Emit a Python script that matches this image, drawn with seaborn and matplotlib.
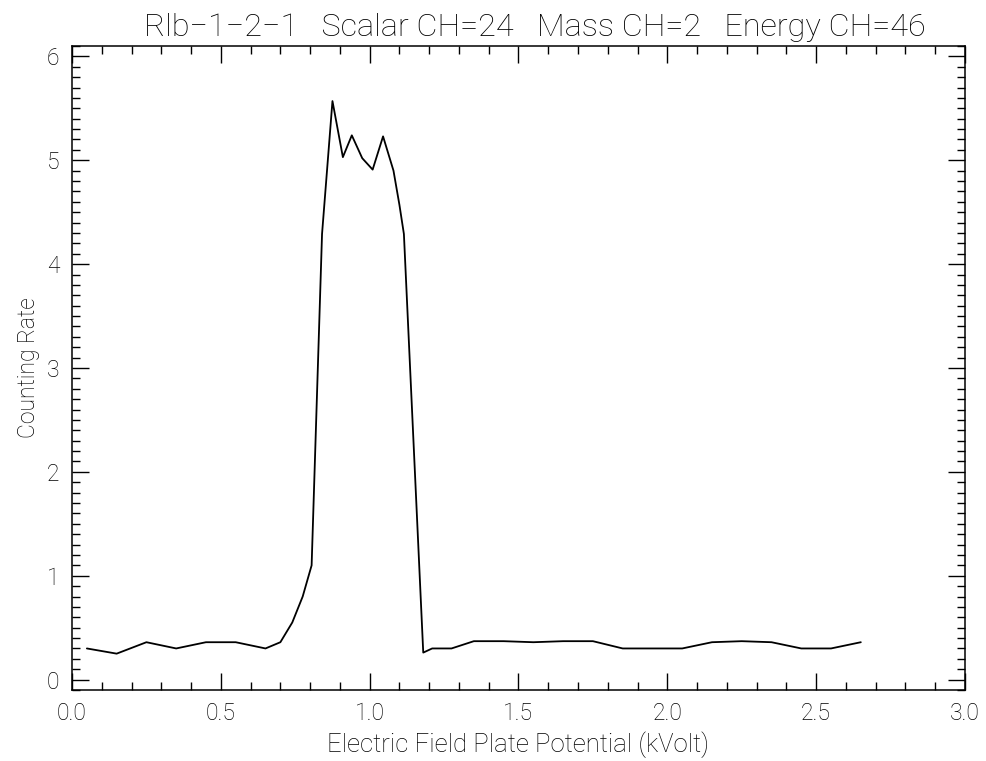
import matplotlib
matplotlib.use("Agg")
import matplotlib.pyplot as plt
from matplotlib.ticker import MultipleLocator
import seaborn as sns
import pandas as pd

# Data
potential_kv = [0.05, 0.15, 0.25, 0.35, 0.45, 0.55, 0.65, 0.70, 0.74, 0.775,
                0.805, 0.84, 0.875, 0.91, 0.94, 0.975, 1.01, 1.045, 1.08, 1.10,
                1.115, 1.18, 1.21, 1.275, 1.35, 1.45, 1.55, 1.65, 1.75, 1.85,
                1.95, 2.05, 2.15, 2.25, 2.35, 2.45, 2.55, 2.65]
counting_rate = [0.30, 0.25, 0.36, 0.30, 0.36, 0.36, 0.30, 0.36, 0.55, 0.80,
                 1.10, 4.29, 5.57, 5.03, 5.24, 5.02, 4.91, 5.23, 4.90, 4.57,
                 4.29, 0.26, 0.30, 0.30, 0.37, 0.37, 0.36, 0.37, 0.37, 0.30,
                 0.30, 0.30, 0.36, 0.37, 0.36, 0.30, 0.30, 0.36]
x_ticks = [0.0, 0.5, 1.0, 1.5, 2.0, 2.5, 3.0]
x_tick_labels = ["0.0", "0.5", "1.0", "1.5", "2.0", "2.5", "3.0"]
y_ticks = [0, 1, 2, 3, 4, 5, 6]
y_tick_labels = ["0", "1", "2", "3", "4", "5", "6"]
title_text = "Rlb\u22121\u22122\u22121   Scalar CH=24   Mass CH=2   Energy CH=46"
x_label = "Electric Field Plate Potential (kVolt)"
y_label = "Counting Rate"

df = pd.DataFrame({"x": potential_kv, "y": counting_rate})

sns.set_theme(style="white")
plt.rcParams["font.family"] = ["Roboto", "DejaVu Sans"]
plt.rcParams["font.weight"] = "light"

fig = plt.figure(figsize=(9.87, 7.61), dpi=100)
ax = fig.add_axes([72 / 987, 71 / 761, 893 / 987, 644 / 761])

sns.lineplot(data=df, x="x", y="y", ax=ax, color="black", linewidth=1.3,
             sort=False, estimator=None)

ax.set_xlim(0, 3)
ax.set_ylim(-0.1, 6.1)
ax.set_xticks(x_ticks)
ax.set_xticklabels(x_tick_labels, fontweight="light")
ax.set_yticks(y_ticks)
ax.set_yticklabels(y_tick_labels, fontweight="light")
ax.xaxis.set_minor_locator(MultipleLocator(0.1))
ax.yaxis.set_minor_locator(MultipleLocator(0.1))

ax.tick_params(which="both", direction="in", top=True, right=True,
               bottom=True, left=True, color="black", width=1.0)
ax.tick_params(which="major", length=12.5, labelsize=16.5, pad=9,
               labelcolor="black")
ax.tick_params(which="minor", length=5.5)

for s in ax.spines.values():
    s.set_color("black")
    s.set_linewidth(1.1)

ax.set_xlabel(x_label, fontsize=18.5, color="black", labelpad=4,
              fontweight="light")
ax.set_ylabel(y_label, fontsize=16.5, color="black", labelpad=5,
              fontweight="light")
ax.set_title(title_text, fontsize=23.3, color="black", pad=7, x=0.518,
             fontweight="light")

fig.savefig("out.png", dpi=100, facecolor="white")
